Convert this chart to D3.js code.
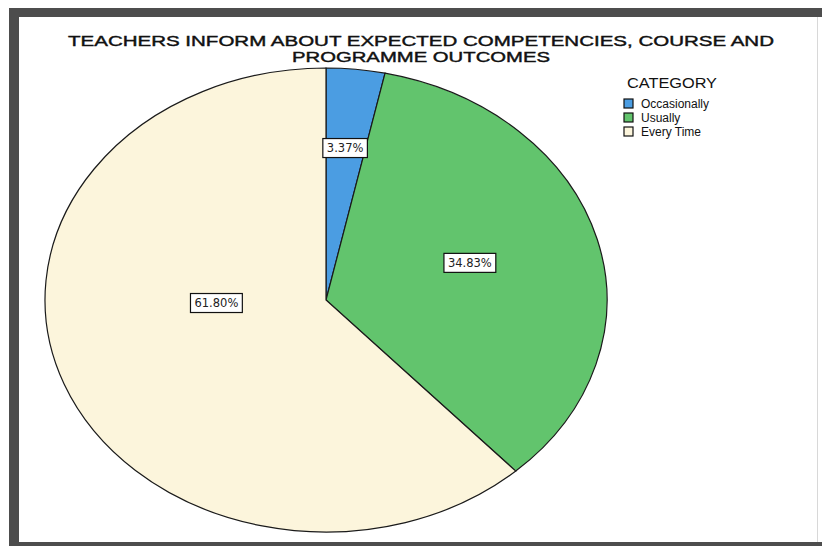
<!DOCTYPE html>
<html><head><meta charset="utf-8">
<script src="https://cdn.jsdelivr.net/npm/d3@7"></script>
<style>html,body{margin:0;padding:0;background:#fff;}svg{display:block;}</style>
</head><body>
<svg id="c" width="822" height="546"></svg>
<script>
const categories = ["Occasionally", "Usually", "Every Time"];
const percentages = [3.37, 34.83, 61.80];
const labelTexts = ["3.37%", "34.83%", "61.80%"];
const titleLines = ["TEACHERS INFORM ABOUT EXPECTED COMPETENCIES, COURSE AND", "PROGRAMME OUTCOMES"];
const legendTitle = "CATEGORY";

const colors = d3.scaleOrdinal().domain(categories).range(["#4b9de2", "#62c46d", "#fcf5dc"]);
// label anchor offsets as fractions of the pie radii (layout only)
const labelOffsets = [[0.068, -0.655], [0.512, -0.16], [-0.39, 0.013]];

const svg = d3.select("#c");
// frame
svg.append("rect").attr("x", 9).attr("y", 8).attr("width", 813).attr("height", 538).attr("fill", "#4d4d4d");
svg.append("rect").attr("x", 19).attr("y", 17).attr("width", 803).attr("height", 525).attr("fill", "#ffffff");
svg.append("line").attr("x1", 817.5).attr("x2", 817.5).attr("y1", 17).attr("y2", 542).attr("stroke", "#d8d8d8").attr("stroke-width", 1);

// title
const title = svg.append("g").attr("font-family", "Liberation Sans, Arial, sans-serif").attr("fill", "#111")
  .attr("stroke", "#111").attr("stroke-width", 0.4);
title.selectAll("text").data(titleLines).join("text")
  .attr("x", 421).attr("y", (d, i) => 46 + i * 16)
  .attr("text-anchor", "middle").attr("font-size", 14)
  .attr("textLength", (d, i) => i === 0 ? 706 : 258).attr("lengthAdjust", "spacingAndGlyphs")
  .text(d => d);

// pie
const cx = 326, cy = 300, rx = 281, ry = 232;
const pie = d3.pie().sort(null).value(d => d.v);
const data = categories.map((c, i) => ({c, v: percentages[i], label: labelTexts[i], i}));
const arcs = pie(data);
const arc = d3.arc().innerRadius(0).outerRadius(rx);
const pg = svg.append("g").attr("transform", `translate(${cx},${cy}) scale(1,${ry / rx})`);
pg.selectAll("path").data(arcs).join("path")
  .attr("d", arc).attr("fill", d => colors(d.data.c))
  .attr("stroke", "#1a1a1a").attr("stroke-width", 1.2).attr("vector-effect", "non-scaling-stroke");

// value labels
const lg = svg.append("g").attr("font-family", "DejaVu Sans, sans-serif").attr("font-size", 11.5);
arcs.forEach((a, i) => {
  const x = cx + labelOffsets[i][0] * rx, y = cy + labelOffsets[i][1] * ry;
  const g = lg.append("g").attr("transform", `translate(${x},${y})`);
  const t = g.append("text").attr("text-anchor", "middle").attr("dy", "0.36em").attr("fill", "#222").text(a.data.label);
  const w = t.node().getComputedTextLength();
  g.insert("rect", "text").attr("x", -w / 2 - 4).attr("y", -9.5).attr("width", w + 8).attr("height", 19)
    .attr("fill", "#fff").attr("stroke", "#111").attr("stroke-width", 1.2);
});

// legend
const leg = svg.append("g").attr("font-family", "Liberation Sans, Arial, sans-serif").attr("fill", "#111");
leg.append("text").attr("x", 627).attr("y", 88).attr("font-size", 14).attr("textLength", 90).attr("lengthAdjust", "spacingAndGlyphs").text(legendTitle);
const rows = leg.selectAll("g.row").data(categories).join("g").attr("class", "row")
  .attr("transform", (d, i) => `translate(624,${99 + i * 14})`);
rows.append("rect").attr("width", 9).attr("height", 9).attr("fill", d => colors(d)).attr("stroke", "#111").attr("stroke-width", 1.2);
rows.append("text").attr("x", 17).attr("y", 9).attr("font-size", 12).text(d => d);
</script>
</body></html>
